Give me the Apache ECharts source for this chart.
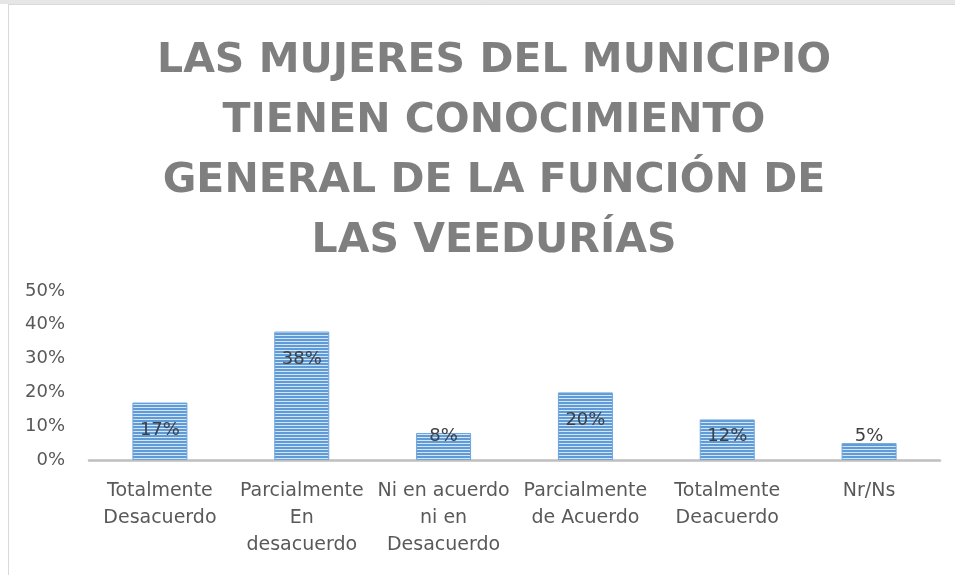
<!DOCTYPE html>
<html>
<head>
<meta charset="utf-8">
<script src="https://cdn.jsdelivr.net/npm/echarts@6/dist/echarts.min.js"></script>
<style>
  html, body { margin: 0; padding: 0; background: #fff; }
  #chart { width: 955px; height: 575px; }
</style>
</head>
<body>
<div id="chart"></div>
<script>
  const titleText = 'LAS MUJERES DEL MUNICIPIO\nTIENEN CONOCIMIENTO\nGENERAL DE LA FUNCIÓN DE\nLAS VEEDURÍAS'
  const categories = [
    'Totalmente\nDesacuerdo',
    'Parcialmente\nEn\ndesacuerdo',
    'Ni en acuerdo\nni en\nDesacuerdo',
    'Parcialmente\nde Acuerdo',
    'Totalmente\nDeacuerdo',
    'Nr/Ns'
  ]
  const percentages = [17, 38, 8, 20, 12, 5]

  // striped fill like the original (blue with light horizontal lines)
  function stripePattern() {
    const c = document.createElement('canvas')
    c.width = 4
    c.height = 3
    const ctx = c.getContext('2d')
    ctx.fillStyle = '#5f9bd6'
    ctx.fillRect(0, 0, 4, 2)
    ctx.fillStyle = '#d3e5f6'
    ctx.fillRect(0, 2, 4, 1)
    return c
  }

  const chart = echarts.init(document.getElementById('chart'))
  chart.setOption({
    animation: false,
    backgroundColor: '#fff',
    title: {
      text: titleText,
      left: 489,
      top: 26,
      textAlign: 'center',
      textStyle: {
        fontFamily: 'DejaVu Sans',
        fontWeight: 'bold',
        fontSize: 41,
        lineHeight: 60,
        color: '#7f7f7f'
      }
    },
    graphic: [
      { type: 'rect', shape: { x: 0, y: 0, width: 955, height: 4 }, style: { fill: '#e6e6e6' }, silent: true },
      { type: 'line', shape: { x1: 8, y1: 4.5, x2: 955, y2: 4.5 }, style: { stroke: '#d9d9d9', lineWidth: 1 }, silent: true },
      { type: 'line', shape: { x1: 8.5, y1: 4, x2: 8.5, y2: 575 }, style: { stroke: '#d9d9d9', lineWidth: 1 }, silent: true }
    ],
    grid: {
      left: 89,
      right: 15,
      top: 291,
      bottom: 115
    },
    xAxis: {
      type: 'category',
      data: categories,
      axisLine: { lineStyle: { color: '#bfbfbf', width: 2.5 } },
      axisTick: { show: false },
      axisLabel: {
        interval: 0,
        margin: 18,
        fontFamily: 'DejaVu Sans',
        fontSize: 19,
        lineHeight: 27,
        color: '#595959'
      }
    },
    yAxis: {
      type: 'value',
      min: 0,
      max: 50,
      interval: 10,
      splitLine: { show: false },
      axisLine: { show: false },
      axisTick: { show: false },
      axisLabel: {
        margin: 24,
        formatter: '{value}%',
        fontFamily: 'DejaVu Sans',
        fontSize: 18,
        color: '#595959'
      }
    },
    series: [{
      type: 'bar',
      data: percentages,
      barWidth: 55,
      itemStyle: {
        color: { image: stripePattern(), repeat: 'repeat' },
        borderColor: '#6fa5db',
        borderWidth: 1
      },
      label: {
        show: true,
        position: 'insideTop',
        formatter: '{c}%',
        fontFamily: 'DejaVu Sans',
        fontSize: 18,
        color: '#404040'
      },
      labelLayout(params) {
        const r = params.rect
        return {
          x: r.x + r.width / 2,
          y: Math.min(r.y + 28, r.y + r.height - 24),
          align: 'center',
          verticalAlign: 'middle'
        }
      }
    }]
  })
</script>
</body>
</html>
